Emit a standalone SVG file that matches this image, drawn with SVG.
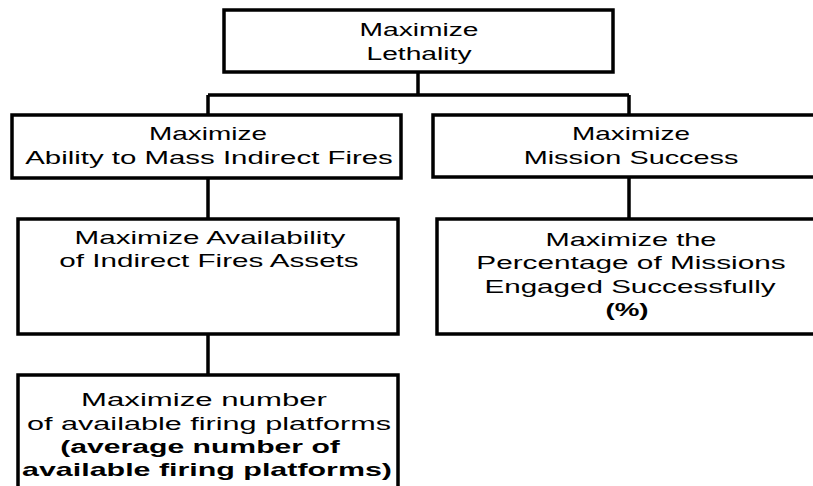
<svg xmlns="http://www.w3.org/2000/svg" width="813" height="486" viewBox="0 0 813 486">
<style>
.box{fill:#fff;stroke:#000;stroke-width:3.5}
.con{fill:none;stroke:#000;stroke-width:3.5}
text{font-family:"Liberation Sans",Arial,sans-serif;font-size:18.5px;fill:#000;text-anchor:middle}
.b{font-weight:bold}
</style>
<rect width="813" height="486" fill="#fff"/>
<g id="connectors">
<path class="con" d="M418,72 V95 M208,95 H629 M208,95 V115 M629,95 V115 M208,178 V219 M629,177 V219 M208,334 V375"/>
</g>
<g id="n-lethality">
<rect class="box" x="224" y="10" width="389" height="62"/>
<text transform="translate(419,36) scale(1.524,1)">Maximize</text>
<text transform="translate(419,59.5) scale(1.524,1)">Lethality</text>
</g>
<g id="n-mass">
<rect class="box" x="12" y="115" width="389" height="63"/>
<text transform="translate(208,140) scale(1.51,1)">Maximize</text>
<text transform="translate(209,164) scale(1.59,1)">Ability to Mass Indirect Fires</text>
</g>
<g id="n-mission">
<rect class="box" x="433" y="115" width="396" height="62"/>
<text transform="translate(631,140) scale(1.51,1)">Maximize</text>
<text transform="translate(631,163.5) scale(1.56,1)">Mission Success</text>
</g>
<g id="n-availability">
<rect class="box" x="18" y="219" width="380" height="115"/>
<text transform="translate(210,244) scale(1.6,1)">Maximize Availability</text>
<text transform="translate(209,267) scale(1.6,1)">of Indirect Fires Assets</text>
</g>
<g id="n-percentage">
<rect class="box" x="437" y="219" width="392" height="115"/>
<text transform="translate(631,245.5) scale(1.57,1)">Maximize the</text>
<text transform="translate(631,269) scale(1.61,1)">Percentage of Missions</text>
<text transform="translate(630,292.5) scale(1.6,1)">Engaged Successfully</text>
<text class="b" transform="translate(627,315.5) scale(1.5,1)">(%)</text>
</g>
<g id="n-platforms">
<rect class="box" x="18" y="375" width="380" height="130"/>
<text transform="translate(204,406) scale(1.685,1)">Maximize number</text>
<text transform="translate(209,429.5) scale(1.655,1)">of available firing platforms</text>
<text class="b" transform="translate(200,453) scale(1.63,1)">(average number of</text>
<text class="b" transform="translate(207,476) scale(1.644,1)">available firing platforms)</text>
</g>
</svg>
